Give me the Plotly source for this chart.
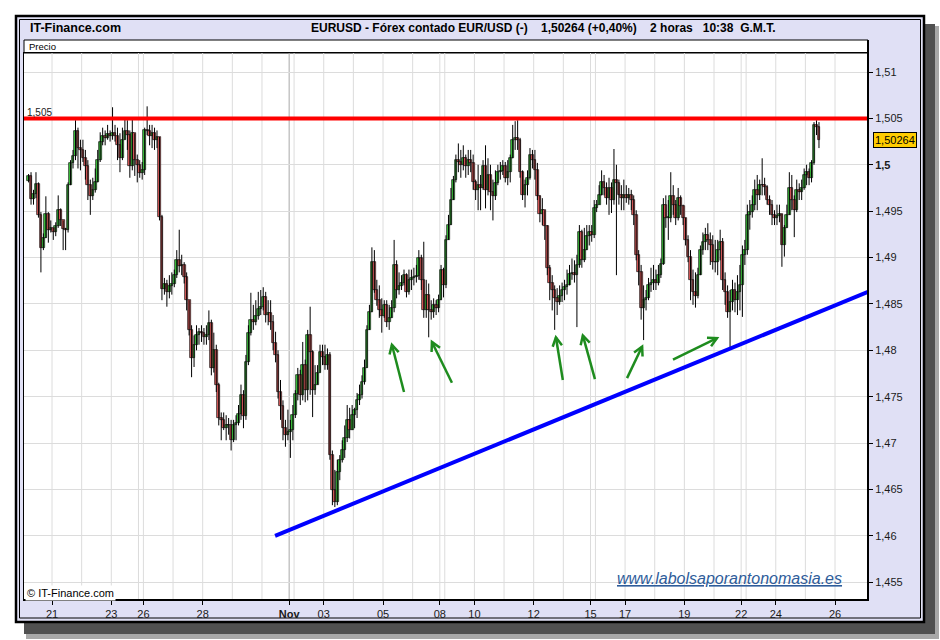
import math
import plotly.graph_objects as go

# ---------------- data (EUR/USD, 2-hour bars) ----------------
first_open = 1.4983
close = [
    1.4988, 1.4963, 1.4968, 1.4979, 1.4946, 1.4910, 1.4921, 1.4947, 1.4930, 1.4932,
    1.4927, 1.4934, 1.4951, 1.4940, 1.4931, 1.4930, 1.4978, 1.5002, 1.5009, 1.5036, 1.5018, 1.5016,
    1.5007, 1.4999, 1.4978, 1.4966, 1.4973, 1.4981, 1.5005, 1.5025, 1.5031, 1.5029, 1.5033, 1.5031,
    1.5034, 1.5031, 1.5021, 1.5007, 1.5027, 1.5036, 1.5032, 1.4999, 1.5034, 1.5005, 1.5000,
    1.4991, 1.4994,
    1.5037, 1.5036, 1.5031, 1.5034, 1.5027, 1.5030, 1.4944, 1.4866, 1.4871, 1.4863, 1.4869, 1.4872,
    1.4881, 1.4897, 1.4891, 1.4892, 1.4879, 1.4854, 1.4822, 1.4792, 1.4806, 1.4816, 1.4820, 1.4819,
    1.4814, 1.4816, 1.4829, 1.4781, 1.4800, 1.4763, 1.4727, 1.4725, 1.4716, 1.4719, 1.4719, 1.4703,
    1.4720, 1.4722, 1.4731, 1.4752, 1.4729, 1.4787, 1.4819, 1.4833, 1.4830, 1.4837, 1.4845, 1.4847,
    1.4857, 1.4838, 1.4840, 1.4830, 1.4808, 1.4795, 1.4755, 1.4740, 1.4716, 1.4709, 1.4712,
    1.4714, 1.4730,
    1.4753, 1.4773, 1.4752, 1.4784, 1.4757, 1.4816, 1.4798, 1.4757, 1.4763, 1.4776, 1.4798, 1.4793,
    1.4784, 1.4795, 1.4687, 1.4649, 1.4636, 1.4669, 1.4682, 1.4692, 1.4705, 1.4725, 1.4714, 1.4730,
    1.4736, 1.4746, 1.4752, 1.4766, 1.4781, 1.4822, 1.4841, 1.4895, 1.4865, 1.4854, 1.4843, 1.4837,
    1.4849, 1.4830, 1.4835, 1.4846, 1.4892, 1.4865, 1.4869, 1.4873, 1.4881, 1.4863, 1.4876, 1.4878,
    1.4879, 1.4880, 1.4899, 1.4876, 1.4843, 1.4860, 1.4843, 1.4841, 1.4849, 1.4846, 1.4854,
    1.4887, 1.4870,
    1.4919, 1.4935, 1.4962, 1.4984, 1.5005, 1.5003, 1.5000, 1.5007, 1.4999, 1.5005, 1.5002, 1.4981,
    1.4973, 1.4978, 1.4975, 1.4999, 1.4973, 1.4989, 1.4971, 1.4966, 1.4980, 1.4992, 1.4993, 1.4999,
    1.4986, 1.4992, 1.5007, 1.5027, 1.5029, 1.5027, 1.4992, 1.4967, 1.4978, 1.4986, 1.5011, 1.5005,
    1.4994, 1.4966, 1.4947, 1.4951, 1.4934, 1.4889, 1.4873, 1.4865, 1.4856, 1.4852, 1.4858, 1.4865,
    1.4868, 1.4870, 1.4882, 1.4883, 1.4881, 1.4892, 1.4927, 1.4897, 1.4908, 1.4923, 1.4927,
    1.4924, 1.4953,
    1.4957, 1.4967, 1.4981, 1.4975, 1.4964, 1.4975, 1.4962, 1.4984, 1.4980, 1.4967, 1.4964, 1.4967,
    1.4964, 1.4967, 1.4962, 1.4946, 1.4903, 1.4884, 1.4846, 1.4854, 1.4856, 1.4870, 1.4873, 1.4876,
    1.4873, 1.4881, 1.4893, 1.4957, 1.4943, 1.4943, 1.4966, 1.4957, 1.4943, 1.4964, 1.4956, 1.4943,
    1.4919, 1.4901, 1.4876, 1.4863, 1.4858, 1.4881, 1.4908, 1.4917, 1.4924, 1.4919, 1.4913, 1.4895,
    1.4895, 1.4908, 1.4917, 1.4876, 1.4863, 1.4841, 1.4852, 1.4865, 1.4854, 1.4863, 1.4870,
    1.4903, 1.4908,
    1.4946, 1.4949, 1.4957, 1.4973, 1.4967, 1.4978, 1.4978, 1.4976, 1.4962, 1.4957, 1.4946, 1.4943,
    1.4945, 1.4947, 1.4913, 1.4932, 1.4946, 1.4975, 1.4962, 1.4951, 1.4973, 1.4971, 1.4975, 1.4989,
    1.4992, 1.4986, 1.5002, 1.5043, 1.5041, 1.50264,
]
high = [
    1.4990, 1.4992, 1.4973, 1.4992, 1.4981, 1.4949, 1.4926, 1.4966, 1.4949, 1.4940,
    1.4932, 1.4938, 1.4967, 1.4953, 1.4938, 1.4932, 1.4981, 1.5005, 1.5016, 1.5048, 1.5040, 1.5027,
    1.5027, 1.5016, 1.5005, 1.4984, 1.4986, 1.4996, 1.5016, 1.5035, 1.5040, 1.5037, 1.5043, 1.5037,
    1.5062, 1.5043, 1.5040, 1.5034, 1.5040, 1.5050, 1.5048, 1.5037, 1.5050, 1.5027, 1.5011,
    1.5005, 1.5003,
    1.5040, 1.5063, 1.5043, 1.5043, 1.5040, 1.5037, 1.5027, 1.4946, 1.4878, 1.4876, 1.4881, 1.4884,
    1.4887, 1.4908, 1.4930, 1.4903, 1.4895, 1.4884, 1.4854, 1.4827, 1.4816, 1.4827, 1.4824, 1.4827,
    1.4824, 1.4827, 1.4843, 1.4833, 1.4819, 1.4806, 1.4765, 1.4733, 1.4733, 1.4730, 1.4727, 1.4725,
    1.4725, 1.4730, 1.4741, 1.4763, 1.4757, 1.4795, 1.4827, 1.4862, 1.4849, 1.4854, 1.4863, 1.4865,
    1.4868, 1.4863, 1.4854, 1.4854, 1.4838, 1.4820, 1.4800, 1.4768, 1.4746, 1.4725, 1.4736,
    1.4725, 1.4741,
    1.4757, 1.4781, 1.4779, 1.4809, 1.4790, 1.4822, 1.4847, 1.4800, 1.4784, 1.4784, 1.4806, 1.4806,
    1.4806, 1.4802, 1.4798, 1.4692, 1.4671, 1.4682, 1.4687, 1.4703, 1.4719, 1.4741, 1.4738, 1.4741,
    1.4738, 1.4754, 1.4763, 1.4773, 1.4790, 1.4827, 1.4849, 1.4911, 1.4908, 1.4876, 1.4870, 1.4856,
    1.4854, 1.4854, 1.4849, 1.4854, 1.4919, 1.4897, 1.4884, 1.4881, 1.4887, 1.4883, 1.4887, 1.4887,
    1.4889, 1.4892, 1.4908, 1.4903, 1.4917, 1.4876, 1.4872, 1.4854, 1.4856, 1.4854, 1.4860,
    1.4892, 1.4889,
    1.4924, 1.4946, 1.4975, 1.4988, 1.5011, 1.5023, 1.5016, 1.5021, 1.5011, 1.5016, 1.5016, 1.5011,
    1.4984, 1.5000, 1.4989, 1.5005, 1.5021, 1.5007, 1.5000, 1.4984, 1.4994, 1.5000, 1.5003, 1.5005,
    1.5003, 1.5005, 1.5011, 1.5043, 1.5047, 1.5048, 1.5029, 1.4994, 1.4984, 1.4994, 1.5018, 1.5016,
    1.5016, 1.5002, 1.4967, 1.4964, 1.4951, 1.4935, 1.4892, 1.4881, 1.4870, 1.4867, 1.4870, 1.4873,
    1.4876, 1.4887, 1.4892, 1.4899, 1.4897, 1.4903, 1.4935, 1.4930, 1.4932, 1.4935, 1.4935,
    1.4935, 1.4962,
    1.4962, 1.4978, 1.4994, 1.4989, 1.4981, 1.4986, 1.4981, 1.5017, 1.5000, 1.4984, 1.4978, 1.4984,
    1.4978, 1.4975, 1.4973, 1.4967, 1.4951, 1.4908, 1.4892, 1.4870, 1.4865, 1.4878, 1.4889, 1.4892,
    1.4887, 1.4892, 1.4899, 1.4964, 1.4967, 1.4962, 1.4992, 1.4978, 1.4962, 1.4975, 1.4967, 1.4957,
    1.4943, 1.4924, 1.4908, 1.4887, 1.4884, 1.4889, 1.4913, 1.4927, 1.4932, 1.4937, 1.4927, 1.4924,
    1.4919, 1.4919, 1.4930, 1.4921, 1.4884, 1.4870, 1.4865, 1.4876, 1.4873, 1.4881, 1.4892,
    1.4913, 1.4919,
    1.4957, 1.4962, 1.4967, 1.4984, 1.4989, 1.4984, 1.5007, 1.4986, 1.4978, 1.4967, 1.4962, 1.4951,
    1.4957, 1.4957, 1.4946, 1.4935, 1.4957, 1.4992, 1.4989, 1.4967, 1.4984, 1.4980, 1.4984, 1.4996,
    1.5000, 1.4996, 1.5005, 1.5046, 1.5048, 1.5046,
]
low = [
    1.4981, 1.4957, 1.4957, 1.4964, 1.4943, 1.4884, 1.4908, 1.4921, 1.4916, 1.4927,
    1.4919, 1.4923, 1.4932, 1.4934, 1.4908, 1.4908, 1.4927, 1.4994, 1.4996, 1.5005, 1.4996, 1.4994,
    1.5003, 1.4984, 1.4962, 1.4946, 1.4962, 1.4970, 1.4981, 1.5003, 1.5021, 1.5021, 1.5027, 1.5025,
    1.5027, 1.5025, 1.5005, 1.4992, 1.5005, 1.5027, 1.5016, 1.4986, 1.4994, 1.4988, 1.4981,
    1.4986, 1.4984,
    1.4989, 1.5032, 1.5021, 1.5018, 1.5016, 1.5018, 1.4940, 1.4854, 1.4860, 1.4847, 1.4856, 1.4860,
    1.4868, 1.4878, 1.4884, 1.4881, 1.4872, 1.4843, 1.4816, 1.4771, 1.4782, 1.4800, 1.4806, 1.4809,
    1.4806, 1.4806, 1.4811, 1.4773, 1.4776, 1.4755, 1.4719, 1.4703, 1.4714, 1.4703, 1.4709, 1.4692,
    1.4701, 1.4703, 1.4719, 1.4725, 1.4716, 1.4725, 1.4784, 1.4816, 1.4822, 1.4827, 1.4833, 1.4838,
    1.4843, 1.4830, 1.4827, 1.4822, 1.4800, 1.4787, 1.4748, 1.4725, 1.4703, 1.4696, 1.4703,
    1.4684, 1.4703,
    1.4727, 1.4746, 1.4741, 1.4746, 1.4744, 1.4746, 1.4752, 1.4728, 1.4752, 1.4763, 1.4776, 1.4784,
    1.4779, 1.4779, 1.4682, 1.4633, 1.4631, 1.4633, 1.4660, 1.4679, 1.4684, 1.4701, 1.4705, 1.4714,
    1.4716, 1.4727, 1.4741, 1.4748, 1.4763, 1.4781, 1.4822, 1.4841, 1.4862, 1.4848, 1.4835, 1.4819,
    1.4835, 1.4825, 1.4822, 1.4838, 1.4841, 1.4856, 1.4860, 1.4865, 1.4870, 1.4857, 1.4860, 1.4865,
    1.4870, 1.4873, 1.4876, 1.4865, 1.4835, 1.4835, 1.4814, 1.4833, 1.4835, 1.4838, 1.4841,
    1.4854, 1.4857,
    1.4867, 1.4919, 1.4940, 1.4962, 1.4981, 1.4992, 1.4986, 1.4994, 1.4986, 1.4989, 1.4992, 1.4973,
    1.4962, 1.4951, 1.4951, 1.4973, 1.4953, 1.4967, 1.4951, 1.4940, 1.4962, 1.4978, 1.4984, 1.4989,
    1.4981, 1.4978, 1.4981, 1.5007, 1.5016, 1.5016, 1.4986, 1.4962, 1.4954, 1.4967, 1.4984, 1.4996,
    1.4984, 1.4962, 1.4938, 1.4935, 1.4919, 1.4881, 1.4854, 1.4843, 1.4822, 1.4838, 1.4849, 1.4852,
    1.4854, 1.4860, 1.4870, 1.4876, 1.4873, 1.4825, 1.4889, 1.4889, 1.4895, 1.4913, 1.4913,
    1.4917, 1.4921,
    1.4949, 1.4957, 1.4967, 1.4967, 1.4957, 1.4946, 1.4948, 1.4957, 1.4881, 1.4957, 1.4951, 1.4951,
    1.4959, 1.4957, 1.4951, 1.4935, 1.4897, 1.4870, 1.4833, 1.4811, 1.4843, 1.4854, 1.4863, 1.4865,
    1.4865, 1.4870, 1.4878, 1.4892, 1.4932, 1.4919, 1.4938, 1.4946, 1.4935, 1.4940, 1.4946, 1.4935,
    1.4913, 1.4895, 1.4854, 1.4849, 1.4846, 1.4856, 1.4881, 1.4903, 1.4908, 1.4908, 1.4892, 1.4887,
    1.4884, 1.4881, 1.4897, 1.4865, 1.4849, 1.4835, 1.4802, 1.4843, 1.4841, 1.4838, 1.4843,
    1.4836, 1.4892,
    1.4903, 1.4930, 1.4943, 1.4951, 1.4951, 1.4962, 1.4967, 1.4967, 1.4957, 1.4946, 1.4935, 1.4935,
    1.4935, 1.4938, 1.4890, 1.4901, 1.4935, 1.4946, 1.4951, 1.4922, 1.4949, 1.4962, 1.4962, 1.4973,
    1.4978, 1.4978, 1.4981, 1.5000, 1.5032, 1.5018,
]

# time axis (2-hour slots; Sundays only have an evening stub)
first_slot = 2
day_start_slots = [12, 24, 36, 47, 49, 61, 73, 85, 97, 108, 110, 122, 134, 146, 158, 169, 171,
                   183, 195, 207, 219, 230, 232, 244, 256, 268, 280, 291, 293, 305, 317, 329]
month_start_slot = 108
label_slots = [12, 36, 49, 73, 108, 122, 146, 169, 183, 207, 230, 244, 268, 291, 305, 329]
label_text = ["21", "23", "26", "28", "<b>Nov</b>", "03", "05", "08", "10", "12",
              "15", "17", "19", "22", "24", "26"]

price_ticks = [1.455, 1.46, 1.465, 1.47, 1.475, 1.48, 1.485, 1.49, 1.495, 1.5, 1.505, 1.51]
price_text = ["1,455", "1,46", "1,465", "1,47", "1,475", "1,48", "1,485", "1,49", "1,495",
              "<b>1,5</b>", "1,505", "1,51"]

resistance = 1.505
support_x = [101.8, 341.85]
support_y = [1.4600, 1.4863]
last_price = 1.50264

# green arrows: (tail slot, tail price, head slot, head price)
arrows = [
    (154.0, 1.4755, 149.1, 1.4806),
    (173.4, 1.4765, 165.3, 1.4809),
    (218.3, 1.4768, 215.5, 1.4814),
    (231.3, 1.4769, 226.4, 1.4816),
    (244.3, 1.4770, 250.4, 1.4804),
    (262.9, 1.4790, 280.7, 1.4813),
]

# ---------------- geometry ----------------
W, H = 940, 640
ML, MR, MT, MB = 24, 72, 53, 40
PW, PH = W - ML - MR, H - MT - MB
X0, X1 = 0.15, 341.85
Y0, Y1 = 1.45308, 1.51205
FONT = "Liberation Sans, Arial, sans-serif"


def px(xp):
    return (xp - ML) / PW


def py(yp):
    return (H - MB - yp) / PH


def to_px(s, p):
    return ML + (s - X0) / (X1 - X0) * PW, H - MB - (p - Y0) / (Y1 - Y0) * PH


def to_data(xp, yp):
    return X0 + (xp - ML) / PW * (X1 - X0), Y0 + (H - MB - yp) / PH * (Y1 - Y0)


# ---------------- candles ----------------
n = len(close)
xs = [first_slot + i for i in range(n)]
opens = [first_open] + close[:-1]
up_x, up_base, up_h, dn_x, dn_base, dn_h = [], [], [], [], [], []
wx, wy = [], []
for i in range(n):
    o, c = opens[i], close[i]
    hi = max(high[i], o, c)
    lo = min(low[i], o, c)
    wx += [xs[i], xs[i], None]
    wy += [hi, lo, None]
    b = min(o, c)
    h = max(abs(c - o), 0.00004)
    if c >= o:
        up_x.append(xs[i]); up_base.append(b); up_h.append(h)
    else:
        dn_x.append(xs[i]); dn_base.append(b); dn_h.append(h)

fig = go.Figure()
fig.add_trace(go.Scatter(x=wx, y=wy, mode="lines", line=dict(color="black", width=1),
                         hoverinfo="skip", showlegend=False))
fig.add_trace(go.Bar(x=up_x, y=up_h, base=up_base, width=1.12,
                     marker=dict(color="#3FCB3F", line=dict(color="#111111", width=0.7)),
                     hoverinfo="skip", showlegend=False))
fig.add_trace(go.Bar(x=dn_x, y=dn_h, base=dn_base, width=1.12,
                     marker=dict(color="#E45E5E", line=dict(color="#111111", width=0.7)),
                     hoverinfo="skip", showlegend=False))
fig.add_trace(go.Scatter(x=[X0, X1], y=[resistance, resistance], mode="lines",
                         line=dict(color="#FF0000", width=4), hoverinfo="skip", showlegend=False))
fig.add_trace(go.Scatter(x=support_x, y=support_y, mode="lines",
                         line=dict(color="#0000FF", width=4), hoverinfo="skip", showlegend=False))

shapes = []
# drop shadow
shapes.append(dict(type="rect", xref="paper", yref="paper", layer="below",
                   x0=px(26), x1=px(939), y0=py(26), y1=py(639),
                   fillcolor="#A8A8A8", line=dict(width=0)))
shapes.append(dict(type="rect", xref="paper", yref="paper", layer="below",
                   x0=px(24), x1=px(935), y0=py(24), y1=py(634),
                   fillcolor="#505050", line=dict(width=0)))
# lavender frame
shapes.append(dict(type="rect", xref="paper", yref="paper", layer="below",
                   x0=px(16), x1=px(924), y0=py(16), y1=py(622),
                   fillcolor="#E0E0F5", line=dict(color="black", width=2.5)))
shapes.append(dict(type="rect", xref="paper", yref="paper", layer="below",
                   x0=px(19.5), x1=px(920.5), y0=py(19.5), y1=py(618),
                   fillcolor="rgba(0,0,0,0)", line=dict(color="black", width=1)))
# white plot panel + "Precio" strip
shapes.append(dict(type="rect", xref="paper", yref="paper", layer="below",
                   x0=0, x1=1, y0=0, y1=1, fillcolor="white", line=dict(width=0)))
shapes.append(dict(type="rect", xref="paper", yref="paper", layer="below",
                   x0=0, x1=1, y0=1, y1=py(40), fillcolor="white",
                   line=dict(color="black", width=1)))
# vertical day grid lines
for s in day_start_slots:
    col = "#A9A9A9" if s == month_start_slot else "#DCDCDC"
    shapes.append(dict(type="line", xref="x", yref="paper", layer="below",
                       x0=s - 0.5, x1=s - 0.5, y0=0, y1=1, line=dict(color=col, width=1)))
# thicker bottom and right axis lines
shapes.append(dict(type="line", xref="paper", yref="paper", x0=0, x1=1, y0=0, y1=0,
                   line=dict(color="black", width=2)))
shapes.append(dict(type="line", xref="paper", yref="paper", x0=1, x1=1, y0=0, y1=py(40),
                   line=dict(color="black", width=2)))
# green arrows
for (ts, tp, hs, hp) in arrows:
    tx, ty = to_px(ts, tp)
    hx, hy = to_px(hs, hp)
    dx, dy = tx - hx, ty - hy
    L = math.hypot(dx, dy)
    ux, uy = dx / L, dy / L
    pts = []
    for ang in (math.radians(28), -math.radians(28)):
        ax = hx + 10 * (ux * math.cos(ang) - uy * math.sin(ang))
        ay = hy + 10 * (ux * math.sin(ang) + uy * math.cos(ang))
        pts.append(to_data(ax, ay))
    shapes.append(dict(type="line", xref="x", yref="y", x0=ts, y0=tp, x1=hs, y1=hp,
                       line=dict(color="#1E8C1E", width=2.5)))
    shapes.append(dict(type="path", xref="x", yref="y",
                       path=f"M {pts[0][0]},{pts[0][1]} L {hs},{hp} L {pts[1][0]},{pts[1][1]}",
                       line=dict(color="#1E8C1E", width=2.5)))

annotations = [
    dict(text="<b>IT-Finance.com</b>", xref="paper", yref="paper", x=px(28), y=py(28),
         xanchor="left", yanchor="middle", showarrow=False,
         font=dict(family=FONT, size=12.5, color="black")),
    dict(text="<b>EURUSD - Fórex contado EUR/USD (-)&nbsp;&nbsp;&nbsp;&nbsp;1,50264 (+0,40%)"
              "&nbsp;&nbsp;&nbsp;&nbsp;2 horas&nbsp;&nbsp;&nbsp;10:38&nbsp;&nbsp;G.M.T.</b>",
         xref="paper", yref="paper", x=px(309), y=py(28), xanchor="left", yanchor="middle",
         showarrow=False, font=dict(family=FONT, size=12, color="black")),
    dict(text="Precio", xref="paper", yref="paper", x=px(27), y=py(46.5),
         xanchor="left", yanchor="middle", showarrow=False,
         font=dict(family=FONT, size=9.5, color="black")),
    dict(text="1,505", xref="paper", yref="y", x=px(25), y=resistance, yshift=-2,
         xanchor="left", yanchor="bottom", showarrow=False,
         font=dict(family=FONT, size=10, color="#222222")),
    dict(text="© IT-Finance.com", xref="paper", yref="paper", x=px(25), y=py(593),
         xanchor="left", yanchor="middle", showarrow=False, bgcolor="white",
         font=dict(family=FONT, size=11, color="black")),
    dict(text="<i><u>www.labolsaporantonomasia.es</u></i>", xref="paper", yref="paper",
         x=px(615), y=py(578), xanchor="left", yanchor="middle", showarrow=False,
         font=dict(family=FONT, size=16, color="#2E5C9A")),
    dict(text="1,50264", xref="paper", yref="y", x=px(873), y=last_price,
         xanchor="left", yanchor="middle", showarrow=False, bgcolor="#FFCC00",
         bordercolor="black", borderwidth=1, borderpad=1,
         font=dict(family=FONT, size=11, color="black")),
]

fig.update_layout(
    width=W, height=H, margin=dict(l=ML, r=MR, t=MT, b=MB),
    paper_bgcolor="white", plot_bgcolor="rgba(0,0,0,0)",
    barmode="overlay", bargap=0, showlegend=False,
    shapes=shapes, annotations=annotations,
    xaxis=dict(range=[X0, X1], tickvals=[s - 0.5 for s in label_slots], ticktext=label_text,
               ticks="outside", ticklen=4, tickcolor="black", showgrid=False, zeroline=False,
               showline=True, linecolor="black", linewidth=1, mirror=True,
               tickfont=dict(family=FONT, size=11, color="#1a1a1a")),
    yaxis=dict(range=[Y0, Y1], side="right", tickvals=price_ticks, ticktext=price_text,
               ticks="outside", ticklen=4, tickcolor="black", showgrid=True,
               gridcolor="#DCDCDC", gridwidth=1, zeroline=False,
               showline=True, linecolor="black", linewidth=1, mirror=True,
               tickfont=dict(family=FONT, size=11, color="#1a1a1a")),
)

fig.write_html("out.html", config={"displayModeBar": False},
               post_script="document.body.style.margin='0px';document.body.style.overflow='hidden';")
